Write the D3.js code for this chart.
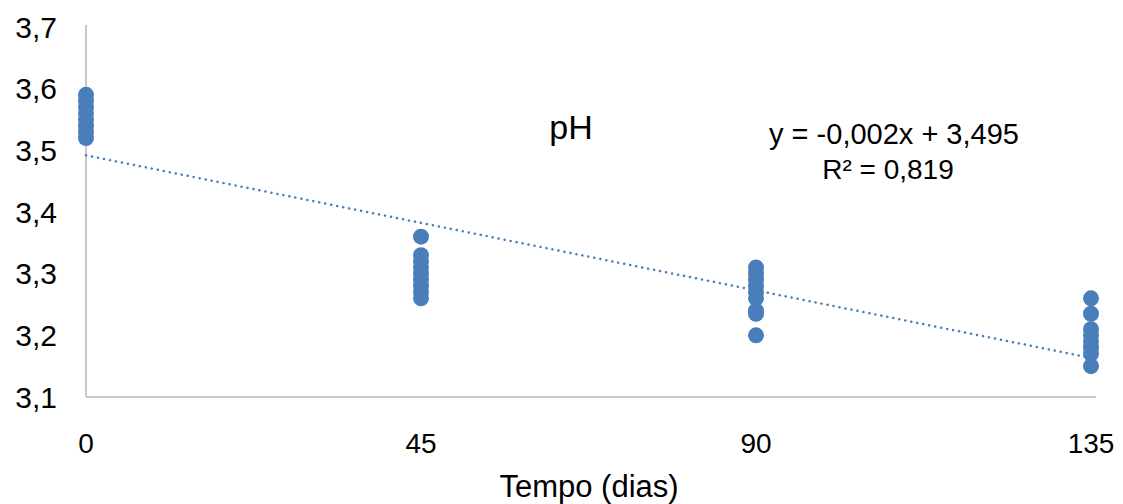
<!DOCTYPE html>
<html>
<head>
<meta charset="utf-8">
<script src="https://cdn.jsdelivr.net/npm/d3@7"></script>
<style>
  body { margin: 0; background: #fff; }
  text { font-family: "Liberation Sans", Arial, sans-serif; fill: #000; }
</style>
</head>
<body>
<svg id="chart"></svg>
<script>
const w = 1123, h = 504;
const margins = { top: 27, right: 32, bottom: 107, left: 86 };

// data
const days = [0, 45, 90, 135];
const ph0   = [3.59, 3.58, 3.57, 3.56, 3.55, 3.54, 3.53, 3.52];
const ph45  = [3.36, 3.33, 3.32, 3.31, 3.30, 3.29, 3.28, 3.27, 3.26];
const ph90  = [3.31, 3.30, 3.29, 3.28, 3.27, 3.26, 3.24, 3.235, 3.20];
const ph135 = [3.26, 3.235, 3.21, 3.20, 3.19, 3.18, 3.17, 3.15];
const yTicks = [3.1, 3.2, 3.3, 3.4, 3.5, 3.6, 3.7];
const eqText = 'y = -0,002x + 3,495';
const r2Text = 'R² = 0,819';

const groups = [ph0, ph45, ph90, ph135];
let points = [];
groups.forEach((g, i) => g.forEach(v => points.push({ x: days[i], y: v })));

// least squares trend line
const mx = d3.mean(points, d => d.x), my = d3.mean(points, d => d.y);
const slope = d3.sum(points, d => (d.x - mx) * (d.y - my)) / d3.sum(points, d => (d.x - mx) ** 2);
const intercept = my - slope * mx;
const trend = [0, 135].map(x => ({ x: x, y: intercept + slope * x }));

const chart = d3.select('#chart').attr('width', w).attr('height', h);

const xScale = d3.scaleLinear().domain([0, 135]).range([margins.left, 1091]);
const yScale = d3.scaleLinear().domain([3.1, 3.7]).range([h - margins.bottom, margins.top]);

const fmt = d => d3.format('.1f')(d).replace('.', ',');

// axis lines
chart.append('line')
  .attr('x1', margins.left).attr('x2', margins.left)
  .attr('y1', yScale(3.7) - 2).attr('y2', yScale(3.1))
  .style('stroke', '#c8c8c8').style('stroke-width', 2);
chart.append('line')
  .attr('x1', margins.left).attr('x2', 1096)
  .attr('y1', yScale(3.1)).attr('y2', yScale(3.1))
  .style('stroke', '#c8c8c8').style('stroke-width', 2);

// y tick labels
chart.selectAll('.ylab')
  .data(yTicks)
  .join('text')
  .attr('class', 'ylab')
  .attr('x', 57)
  .attr('y', d => yScale(d))
  .attr('dy', '0.36em')
  .attr('text-anchor', 'end')
  .style('font-size', '30px')
  .text(fmt);

// x tick labels
chart.selectAll('.xlab')
  .data(days)
  .join('text')
  .attr('class', 'xlab')
  .attr('x', d => xScale(d))
  .attr('y', 443)
  .attr('dy', '0.36em')
  .attr('text-anchor', 'middle')
  .style('font-family', '"Liberation Sans Narrow", "Liberation Sans", sans-serif')
  .style('font-size', '28px')
  .text(d => d);

// axis title
chart.append('text')
  .attr('x', 589).attr('y', 497)
  .attr('text-anchor', 'middle')
  .style('font-size', '31px')
  .text('Tempo (dias)');

// points
chart.selectAll('circle')
  .data(points)
  .join('circle')
  .attr('cx', d => xScale(d.x))
  .attr('cy', d => yScale(d.y))
  .attr('r', 8)
  .style('fill', '#4a7ebb');

// dotted trend line
chart.append('line')
  .attr('x1', xScale(trend[0].x)).attr('y1', yScale(trend[0].y))
  .attr('x2', xScale(trend[1].x)).attr('y2', yScale(trend[1].y))
  .style('stroke', '#4a7ebb')
  .style('stroke-width', 2.5)
  .style('stroke-linecap', 'round')
  .style('stroke-dasharray', '0.1 6');

// labels
chart.append('text')
  .attr('x', 571).attr('y', 139)
  .attr('text-anchor', 'middle')
  .style('font-size', '34px')
  .text('pH');
chart.append('text')
  .attr('x', 894).attr('y', 144)
  .attr('text-anchor', 'middle')
  .style('font-size', '29px')
  .text(eqText);
chart.append('text')
  .attr('x', 888).attr('y', 179)
  .attr('text-anchor', 'middle')
  .style('font-size', '28px')
  .text(r2Text);
</script>
</body>
</html>
